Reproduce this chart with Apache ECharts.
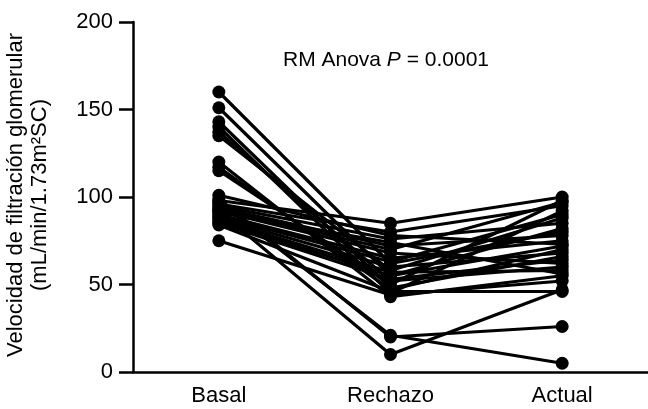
<!DOCTYPE html>
<html>
<head>
<meta charset="utf-8">
<script src="https://cdn.jsdelivr.net/npm/echarts@6/dist/echarts.min.js"></script>
<style>html,body{margin:0;padding:0;background:#fff;}#c{width:648px;height:409px;}</style>
</head>
<body>
<div id="c"></div>
<script>
var categories = ['Basal', 'Rechazo', 'Actual'];
var yTicks = [0, 50, 100, 150, 200];
var basal   = [160, 151, 143, 140, 137, 135, 120, 117, 115,  99, 92, 97, 98, 96, 95, 94, 93, 92, 90, 89, 88, 87, 86, 85, 84, 75, 101, 91];
var rechazo = [ 62,  55,  48,  45,  52,  58,  43,  47,  50,  20, 10, 21, 85, 80, 76, 72, 70, 68, 65, 63, 60, 57, 55, 53, 46, 44,  78, 74];
var actual  = [ 80,  72,  66,  92,  60,  88,  55,  70,  98,  26, 47,  5, 100, 95, 85, 78, 97, 62, 75, 90, 68, 58, 82, 64, 46, 52, 73, 56];
var titleMain = 'RM Anova ';
var titleP = 'P';
var titleVal = ' = 0.0001';
var yName1 = 'Velocidad de filtración glomerular';
var yName2 = '(mL/min/1.73m²SC)';

var FONT = "'Liberation Sans', Arial, Helvetica, sans-serif";
var FS = 22;

var series = basal.map(function (b, i) {
  return {
    type: 'line',
    data: [b, rechazo[i], actual[i]],
    symbol: 'circle',
    symbolSize: 13,
    lineStyle: { color: '#000', width: 3.2 },
    itemStyle: { color: '#000' },
    emphasis: { disabled: true },
    silent: true,
    animation: false,
    z: 2
  };
});

var chart = echarts.init(document.getElementById('c'), null, { renderer: 'canvas' });
chart.setOption({
  animation: false,
  backgroundColor: '#fff',
  grid: { left: 133, top: 22, width: 525, height: 350, containLabel: false },
  title: {
    text: '{n|' + titleMain + '}{i|' + titleP + '}{n|' + titleVal + '}',
    left: 278, top: 45,
    textStyle: {
      fontWeight: 'normal',
      rich: {
        n: { fontFamily: FONT, fontSize: 21, color: '#000', fontWeight: 'normal' },
        i: { fontFamily: FONT, fontSize: 21, color: '#000', fontStyle: 'italic', fontWeight: 'normal' }
      }
    }
  },
  xAxis: {
    type: 'category',
    data: categories,
    boundaryGap: true,
    axisLine: { lineStyle: { color: '#000', width: 2.5 } },
    axisTick: { alignWithLabel: true, length: 10, lineStyle: { color: '#000', width: 2.5 } },
    axisLabel: { color: '#000', fontFamily: FONT, fontSize: FS, margin: 13 },
    splitLine: { show: false }
  },
  yAxis: {
    type: 'value',
    min: yTicks[0], max: yTicks[yTicks.length - 1], interval: 50,
    axisLine: { show: true, lineStyle: { color: '#000', width: 2.5 } },
    axisTick: { show: true, length: 14, lineStyle: { color: '#000', width: 2.5 } },
    axisLabel: { color: '#000', fontFamily: FONT, fontSize: FS, margin: 20 },
    splitLine: { show: false }
  },
  graphic: [{
    type: 'text',
    x: 28, y: 195,
    rotation: Math.PI / 2,
    style: {
      text: yName1 + '\n' + yName2,
      fontFamily: FONT, fontSize: FS, lineHeight: 24,
      fill: '#000', align: 'center', verticalAlign: 'middle'
    }
  }],
  series: series
});
</script>
</body>
</html>
